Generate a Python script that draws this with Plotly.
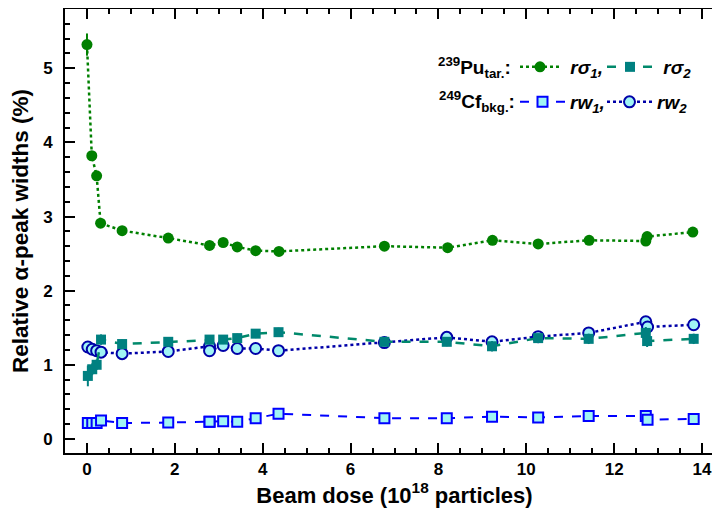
import plotly.graph_objects as go

# ---- data ----
dose_s1 = [0.0, 0.11, 0.22, 0.31, 0.80, 1.85, 2.79, 3.10, 3.42, 3.84, 4.37, 6.77, 8.21, 9.23, 10.27, 11.43, 12.72, 12.75, 13.79]
r_sigma1 = [5.32, 3.82, 3.55, 2.91, 2.81, 2.71, 2.61, 2.65, 2.59, 2.54, 2.53, 2.60, 2.58, 2.68, 2.63, 2.68, 2.67, 2.73, 2.79]
r_sigma1_err = [0.15, 0.05, 0.05, 0.04, 0.04, 0.04, 0.04, 0.04, 0.04, 0.04, 0.04, 0.04, 0.04, 0.04, 0.04, 0.04, 0.04, 0.04, 0.05]

dose_s2 = [0.02, 0.12, 0.22, 0.32, 0.80, 1.85, 2.79, 3.10, 3.42, 3.84, 4.36, 6.77, 8.19, 9.22, 10.27, 11.42, 12.72, 12.75, 13.81]
r_sigma2 = [0.85, 0.94, 1.00, 1.34, 1.28, 1.31, 1.34, 1.34, 1.36, 1.42, 1.44, 1.31, 1.31, 1.25, 1.36, 1.35, 1.43, 1.32, 1.35]
r_sigma2_err = [0.14, 0.08, 0.07, 0.07, 0.06, 0.06, 0.06, 0.06, 0.06, 0.06, 0.06, 0.06, 0.06, 0.07, 0.06, 0.07, 0.08, 0.08, 0.07]

dose_w = [0.02, 0.12, 0.22, 0.32, 0.80, 1.85, 2.79, 2.79, 3.10, 3.42, 3.84, 4.36, 6.77, 8.19, 9.22, 10.27, 11.42, 12.72, 12.76, 13.81]
rw2 = [1.24, 1.21, 1.19, 1.17, 1.15, 1.18, 1.25, 1.19, 1.26, 1.22, 1.22, 1.19, 1.30, 1.37, 1.31, 1.38, 1.43, 1.58, 1.51, 1.54]
rw1 = [0.215, 0.215, 0.215, 0.25, 0.215, 0.22, 0.23, 0.23, 0.24, 0.23, 0.28, 0.34, 0.28, 0.28, 0.30, 0.29, 0.31, 0.31, 0.26, 0.27]

x_ticks = [0, 2, 4, 6, 8, 10, 12, 14]
y_ticks = [0, 1, 2, 3, 4, 5]

GREEN = "#008000"
TEAL = "#008080"
TEAL_LINE = "#00896b"
BLUE = "#0000ff"
NAVY = "#0000a8"
CYAN = "#a0f4f4"
FONT = "Liberation Sans"
NB = "\u00a0"

fig = go.Figure()

fig.add_trace(go.Scatter(
    x=dose_w, y=rw1, mode="lines+markers", name="<b><i>rw<sub>1</sub>,</i></b>",
    line=dict(color=BLUE, width=2, dash="dash"),
    marker=dict(symbol="square", size=10, color=CYAN, line=dict(color=BLUE, width=2)),
    legend="legend3"))

fig.add_trace(go.Scatter(
    x=dose_w, y=rw2, mode="lines+markers", name="<b><i>rw<sub>2</sub></i></b>",
    line=dict(color=NAVY, width=2.5, dash="dot"),
    marker=dict(symbol="circle", size=11, color=CYAN, line=dict(color=NAVY, width=2)),
    legend="legend4"))

fig.add_trace(go.Scatter(
    x=dose_s2, y=r_sigma2, mode="lines+markers", name=NB + "<b><i>rσ<sub>2</sub></i></b>",
    line=dict(color=TEAL_LINE, width=2.5, dash="dash"),
    marker=dict(symbol="square", size=10, color=TEAL),
    error_y=dict(type="data", array=r_sigma2_err, color=TEAL, thickness=2, width=0),
    legend="legend2"))

fig.add_trace(go.Scatter(
    x=dose_s1, y=r_sigma1, mode="lines+markers", name=NB + "<b><i>rσ<sub>1</sub>,</i></b>",
    line=dict(color=GREEN, width=2.5, dash="dot"),
    marker=dict(symbol="circle", size=11, color=GREEN),
    error_y=dict(type="data", array=r_sigma1_err, color=GREEN, thickness=2, width=0),
    legend="legend"))

axis_common = dict(
    showline=True, linecolor="black", linewidth=2, mirror="allticks",
    ticks="inside", ticklen=10, tickwidth=2, tickcolor="black",
    showgrid=False, zeroline=False,
    tickfont=dict(family=FONT, size=17, color="black", weight="bold"),
)

fig.update_xaxes(
    range=[-0.5, 14.5], tickvals=x_ticks,
    minor=dict(dtick=0.5, ticks="inside", ticklen=5, tickwidth=1.5, tickcolor="black"),
    title=dict(text="<b>Beam dose (10<sup>18</sup> particles)</b>",
               font=dict(family=FONT, size=22, color="black"), standoff=7),
    **axis_common)
fig.update_yaxes(
    range=[-0.19, 5.8], tickvals=y_ticks, ticklabelstandoff=7,
    minor=dict(dtick=0.2, ticks="inside", ticklen=5, tickwidth=1.5, tickcolor="black"),
    title=dict(text="<b>Relative α-peak widths (%)</b>",
               font=dict(family=FONT, size=22.5, color="black"), standoff=10),
    **axis_common)

L, T, W, H = 57, 1, 659, 444


def leg(x, y, iw):
    return dict(
        orientation="h", xref="container", yref="container",
        x=x / 720, y=1 - y / 510,
        xanchor="left", yanchor="middle", bgcolor="rgba(0,0,0,0)",
        font=dict(family=FONT, size=19, color="black"),
        itemwidth=iw,
    )


fig.update_layout(
    width=720, height=510,
    margin=dict(l=L, r=720 - L - W, t=T, b=510 - T - H, autoexpand=False),
    paper_bgcolor="white", plot_bgcolor="white",
    showlegend=True,
    legend=leg(507, 59, 40),
    legend2=leg(594, 59, 46),
    legend3=leg(507, 94, 45),
    legend4=leg(594, 94, 45),
    annotations=[
        dict(text="<b><sup>239</sup>Pu<sub>tar.</sub>:</b>", xref="paper", yref="paper",
             x=(505 - L) / W, y=1 - (59 - T) / H, xanchor="right", yanchor="middle",
             showarrow=False, font=dict(family=FONT, size=19, color="black")),
        dict(text="<b><sup>249</sup>Cf<sub>bkg.</sub>:</b>", xref="paper", yref="paper",
             x=(509 - L) / W, y=1 - (94 - T) / H, xanchor="right", yanchor="middle",
             showarrow=False, font=dict(family=FONT, size=19, color="black")),
    ],
)

fig.write_html("out.html")
